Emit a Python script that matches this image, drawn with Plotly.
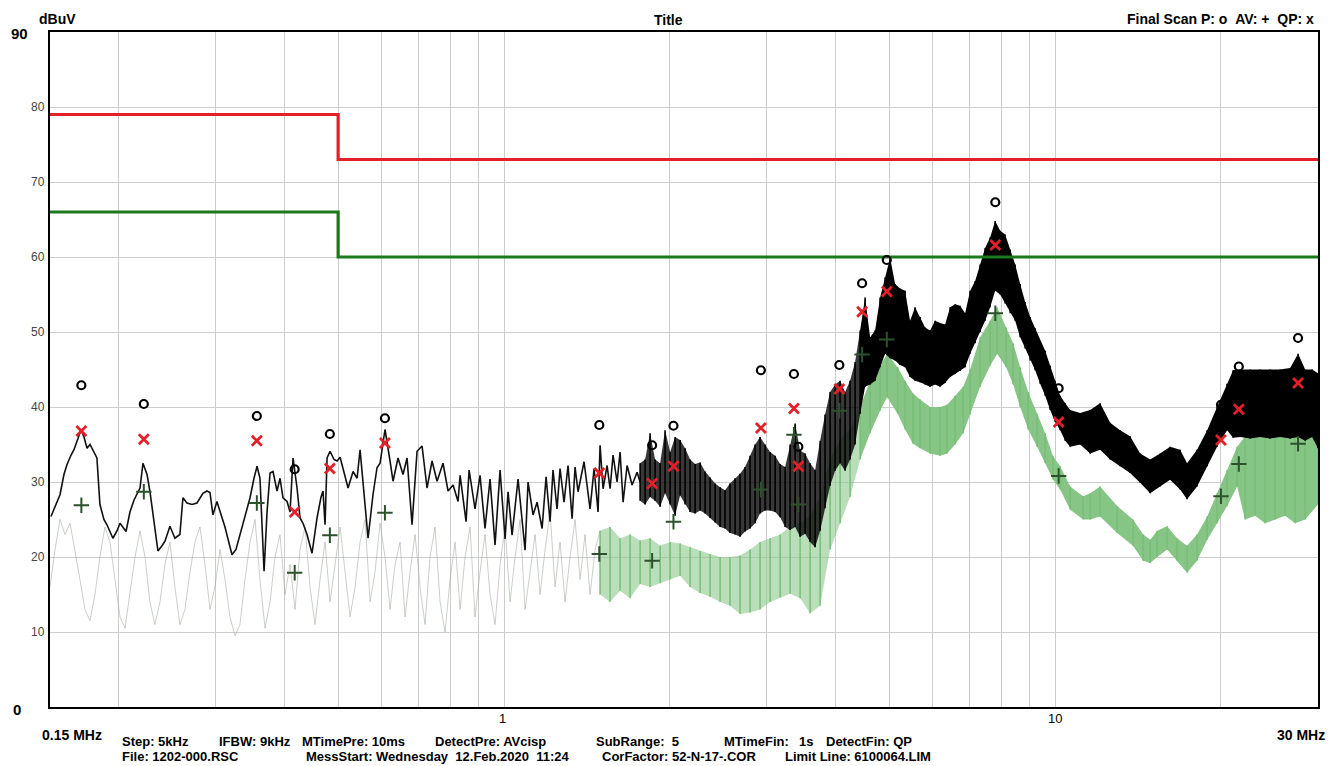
import math
import plotly.graph_objects as go

# ------------------------------------------------------------------ data
limit_freq = [0.15, 0.5, 0.5, 30.0]
qp_limit = [79, 79, 73, 73]
av_limit = [66, 66, 60, 60]

final_freq = [0.171, 0.222, 0.356, 0.417, 0.483, 0.608, 1.489, 1.857, 2.030, 2.925,
              3.358, 3.421, 4.06, 4.465, 4.95, 7.79, 10.15, 20.0, 21.55, 27.6]
final_peak = [42.9, 40.4, 38.8, 31.7, 36.4, 38.5, 37.6, 34.9, 37.5, 44.9,
              44.4, 34.7, 45.6, 56.5, 59.6, 67.3, 42.5, 40.3, 45.4, 49.2]
final_qp = [36.8, 35.7, 35.5, 26.0, 31.8, 35.2, 31.2, 29.8, 32.1, 37.2,
            39.8, 32.1, 42.4, 52.7, 55.4, 61.6, 38.0, 35.6, 39.7, 43.2]
final_av = [26.9, 28.7, 27.2, 17.9, 22.9, 25.9, 20.4, 19.5, 24.7, 29.0,
            36.3, 27.0, 39.5, 47.0, 49.0, 52.5, 30.8, 28.1, 32.4, 35.1]

# peak pre-scan, single line part (MHz, dBuV)
peak_line_freq = [0.1506, 0.1545, 0.1564, 0.1590, 0.1610, 0.1638, 0.1658, 0.1686, 0.1707, 0.1729,
                  0.1751, 0.1773, 0.1795, 0.1825, 0.1848, 0.1879, 0.1903, 0.1951, 0.1985, 0.2010,
                  0.2061, 0.2095, 0.2131, 0.2185, 0.2212, 0.2250, 0.2277, 0.2315, 0.2355, 0.2395,
                  0.2425, 0.2476, 0.2528, 0.2581, 0.2614, 0.2658, 0.2715, 0.2772, 0.2842, 0.2890,
                  0.2927, 0.2963, 0.3013, 0.3116, 0.3209, 0.3263, 0.3318, 0.3388, 0.3460, 0.3518,
                  0.3563, 0.3607, 0.3637, 0.3669, 0.3715, 0.3762, 0.3809, 0.3873, 0.3922, 0.3971,
                  0.4039, 0.4090, 0.4141, 0.4211, 0.4264, 0.4317, 0.4391, 0.4483, 0.4578, 0.4655,
                  0.4694, 0.4734, 0.4774, 0.4834, 0.4915, 0.4977, 0.5041, 0.5147, 0.5212, 0.5322,
                  0.5412, 0.5480, 0.5549, 0.5666, 0.5784, 0.5882, 0.5957, 0.6082, 0.6211, 0.6289,
                  0.6422, 0.6557, 0.6669, 0.6809, 0.6953, 0.7100, 0.7249, 0.7403, 0.7559, 0.7750,
                  0.7915, 0.8082, 0.8253, 0.8323, 0.8534, 0.8642, 0.8859, 0.9046, 0.9237, 0.9433,
                  0.9632, 0.9836, 1.0044, 1.0170, 1.0342, 1.0604, 1.0919, 1.1056, 1.1290, 1.1482,
                  1.1724, 1.1922, 1.2120, 1.2272, 1.2480, 1.2638, 1.2851, 1.3067, 1.3289, 1.3456,
                  1.3625, 1.3971, 1.4327, 1.4569, 1.4813, 1.4938, 1.5126, 1.5382, 1.5576, 1.5771,
                  1.6039, 1.6241, 1.6446, 1.6724, 1.7077, 1.7438, 1.7659]
peak_line_level = [25.4, 27.5, 28.3, 31.0, 32.3, 33.6, 34.3, 35.8, 37.0, 36.0,
                   34.5, 35.0, 34.3, 33.2, 27.0, 25.0, 24.3, 22.5, 23.5, 24.5,
                   23.4, 26.0, 27.6, 29.2, 32.5, 31.0, 28.8, 25.0, 20.8, 21.5,
                   22.1, 24.1, 22.5, 23.0, 27.9, 27.2, 27.0, 27.2, 28.5, 28.8,
                   28.6, 25.6, 27.4, 24.0, 20.3, 21.0, 23.0, 25.5, 27.9, 30.5,
                   32.1, 30.5, 24.0, 18.1, 26.0, 31.2, 31.4, 28.8, 30.5, 27.9,
                   27.4, 26.0, 33.2, 29.2, 25.2, 24.5, 23.0, 20.5, 25.2, 28.0,
                   28.8, 24.3, 33.2, 34.1, 33.0, 32.8, 33.3, 30.8, 29.2, 31.4,
                   30.5, 34.3, 30.0, 22.5, 28.3, 31.9, 32.5, 37.0, 32.8, 30.1,
                   33.2, 31.0, 33.2, 24.3, 34.1, 34.8, 29.2, 32.8, 30.1, 32.5,
                   28.8, 29.6, 27.4, 30.9, 24.7, 31.6, 26.4, 30.9, 23.8, 30.4,
                   21.6, 31.6, 22.4, 28.7, 22.9, 30.4, 20.9, 30.0, 25.6, 27.3,
                   23.8, 30.7, 24.7, 31.6, 26.4, 31.8, 27.3, 32.2, 25.1, 32.0,
                   28.7, 32.7, 26.4, 31.8, 26.0, 34.9, 29.1, 32.2, 29.1, 33.6,
                   30.0, 34.0, 27.3, 32.2, 29.6, 31.3, 30.0]

# peak pre-scan, dense part: upper / lower envelope (MHz, dBuV)
peak_band_freq = [1.7659, 1.8032, 1.841, 1.880, 1.920, 1.960, 2.002, 2.044, 2.087, 2.131,
                  2.176, 2.222, 2.269, 2.317, 2.366, 2.416, 2.467, 2.518, 2.571, 2.626,
                  2.681, 2.738, 2.796, 2.855, 2.915, 2.977, 3.040, 3.104, 3.170, 3.237,
                  3.305, 3.375, 3.446, 3.519, 3.593, 3.669, 3.747, 3.825, 3.906, 3.989,
                  4.073, 4.159, 4.246, 4.336, 4.428,
                  4.521, 4.617, 4.714, 4.814, 4.916, 5.019, 5.125, 5.232, 5.343, 5.456,
                  5.571, 5.689, 5.809, 5.932, 6.057, 6.185, 6.316, 6.450, 6.586, 6.725,
                  6.867, 7.012, 7.161, 7.312, 7.466, 7.624, 7.785, 7.949, 8.117, 8.289,
                  8.464, 8.643, 8.825, 9.012, 9.202, 9.397, 9.595, 9.797, 10.004, 10.216,
                  10.432, 10.652, 11.105, 11.580, 12.07, 12.59, 13.12, 13.68, 14.27, 14.88,
                  15.51, 16.17, 16.86, 17.36, 18.10, 18.88, 19.68, 20.52, 21.04, 21.67,
                  22.59, 23.56, 24.56, 25.61, 26.70, 27.61, 28.43, 29.27, 30.0]
peak_band_hi = [32.5, 33.0, 36.5, 33.0, 32.5, 36.9, 34.0, 36.0, 35.6, 34.5,
                33.0, 32.4, 32.6, 31.4, 30.6, 29.8, 29.3, 28.9, 29.8, 30.5,
                31.1, 32.0, 33.5, 35.0, 36.0, 35.0, 34.0, 33.5, 32.4, 32.0,
                35.0, 37.8, 34.2, 33.8, 32.5, 31.6, 35.5, 39.0, 42.0, 43.0,
                43.5, 42.0, 43.5, 46.0, 50.2,
                54.6, 49.3, 50.2, 54.6, 57.3, 59.9, 56.4, 55.8, 55.5, 51.5,
                53.3, 52.0, 50.6, 50.2, 51.5, 51.2, 51.0, 53.3, 53.7, 53.5,
                52.5, 55.5, 56.8, 59.0, 61.2, 62.6, 64.8, 63.5, 63.0, 61.0,
                59.0, 56.4, 54.0, 52.0, 50.5, 48.8, 47.5, 45.5, 43.5, 41.5,
                40.5, 39.6, 39.2, 39.6, 40.5, 37.9, 36.9, 36.1, 33.8, 33.0,
                33.8, 34.7, 34.3, 32.5, 34.3, 36.9, 40.0, 43.1, 44.9, 45.0,
                45.0, 45.0, 45.0, 45.0, 45.2, 47.1, 45.0, 45.0, 44.5]
peak_band_lo = [27.5, 27.0, 28.0, 27.5, 26.7, 28.5, 27.0, 25.5, 28.2, 27.0,
                26.0, 25.8, 26.2, 25.8, 25.2, 24.6, 24.0, 23.8, 23.2, 23.0,
                22.7, 23.4, 23.8, 24.5, 25.8, 26.2, 26.2, 26.0, 25.3, 24.0,
                23.6, 24.0, 22.7, 23.1, 22.0, 21.3, 23.5, 26.5, 29.5, 31.5,
                32.5, 31.5, 33.0, 35.0, 39.1,
                42.7, 43.0, 43.5, 45.3, 47.1, 46.5, 46.2, 45.6, 45.3, 44.0,
                43.5, 43.3, 43.0, 42.7, 43.0, 42.7, 43.2, 44.0, 44.4, 44.8,
                45.3, 47.1, 48.5, 50.0, 51.5, 53.3, 55.5, 55.0, 53.8, 52.5,
                51.5, 49.3, 47.8, 46.2, 44.9, 43.1, 41.5, 39.6, 38.0, 36.9,
                35.5, 34.7, 35.0, 33.8, 34.3, 33.0, 32.1, 31.2, 29.9, 28.5,
                29.4, 30.3, 29.0, 27.7, 29.4, 32.1, 34.7, 36.9, 35.9, 36.0,
                35.8, 36.0, 35.8, 36.0, 35.8, 36.0, 35.5, 36.0, 34.5]
peak_dense_from = 4.428   # MHz where the peak trace becomes a solid band

# average pre-scan, faint line part (MHz, dBuV)
av_line_freq = [0.1500, 0.1532, 0.1564, 0.1597, 0.1631, 0.1665, 0.1700, 0.1736, 0.1773, 0.1810,
                0.1848, 0.1887, 0.1927, 0.1968, 0.2010, 0.2052, 0.2095, 0.2140, 0.2185, 0.2231,
                0.2277, 0.2325, 0.2375, 0.2425, 0.2476, 0.2528, 0.2581, 0.2636, 0.2692, 0.2749,
                0.2807, 0.2866, 0.2927, 0.2988, 0.3052, 0.3116, 0.3182, 0.3249, 0.3318, 0.3388,
                0.3460, 0.3533, 0.3607, 0.3684, 0.3762, 0.3841, 0.3922, 0.4005, 0.4090, 0.4176,
                0.4264, 0.4354, 0.4446, 0.4540, 0.4636, 0.4734, 0.4834, 0.4936, 0.5041, 0.5147,
                0.5256, 0.5367, 0.5480, 0.5596, 0.5714, 0.5833, 0.5957, 0.6082, 0.6211, 0.6342,
                0.6476, 0.6613, 0.6752, 0.6895, 0.7041, 0.7189, 0.7341, 0.7496, 0.7655, 0.7816,
                0.7982, 0.8150, 0.8323, 0.8498, 0.8678, 0.8859, 0.9046, 0.9237, 0.9433, 0.9632,
                0.9836, 1.0044, 1.0256, 1.0473, 1.0694, 1.0919, 1.1150, 1.1386, 1.1626, 1.1872,
                1.2120, 1.2376, 1.2638, 1.2905, 1.3178, 1.3456, 1.3740, 1.4030, 1.4327, 1.4630,
                1.4938]
av_line_level = [16, 21, 25, 23, 24.5, 21, 17, 13, 11.5, 15,
                 20, 24, 22, 17, 12, 10.5, 15, 20, 23.5, 20,
                 14, 11, 14, 19, 22, 16, 11, 13, 18, 22,
                 24, 19, 13, 16, 21, 17, 12, 9.5, 11, 17,
                 22, 25, 17, 10.5, 14, 20, 23, 15, 19, 13,
                 21, 24, 16, 11, 17, 22, 14, 19, 24, 18,
                 12, 16, 22, 25, 14, 18, 24.5, 20, 13, 19,
                 22, 12, 18, 23, 16, 11, 20, 24, 14, 10,
                 17, 22, 13, 20, 24, 12, 18, 23, 15, 11,
                 19, 24, 14, 20, 25, 13, 18, 23, 15, 21,
                 26, 16, 22, 14, 20, 25, 17, 23, 15, 21,
                 23.5]

# average pre-scan, dense part: upper / lower envelope (MHz, dBuV)
av_band_freq = [1.4938, 1.5576, 1.6241, 1.6935, 1.7659, 1.841, 1.920, 2.002, 2.087, 2.176,
                2.269, 2.366, 2.467, 2.571, 2.681, 2.796, 2.915, 3.040, 3.170, 3.305,
                3.446, 3.593, 3.747, 3.906, 4.073, 4.246, 4.428,
                4.617, 4.814, 4.957, 5.180, 5.343, 5.524, 5.689, 5.932, 6.185, 6.369,
                6.586, 6.812, 7.012, 7.312, 7.624, 7.850, 8.151, 8.394, 8.643, 8.937,
                9.280, 9.595, 9.920, 10.216, 10.652, 11.245, 11.580, 12.07, 12.96, 13.85,
                14.45, 14.88, 15.32, 15.97, 16.65, 17.36, 18.10, 18.88, 19.68, 20.52,
                21.40, 22.12, 23.07, 24.05, 25.08, 26.15, 27.27, 28.43, 30.0]
av_band_hi = [23.5, 24.0, 22.5, 23.0, 22.2, 22.5, 21.5, 22.0, 21.8, 21.3,
              20.8, 20.4, 20.0, 20.0, 20.2, 21.0, 22.0, 22.5, 23.0, 24.0,
              24.5, 25.5, 28.0, 33.0, 35.6, 37.0, 40.0,
              43.5, 45.5, 47.1, 45.3, 43.5, 41.8, 41.0, 40.0, 40.0, 40.3,
              41.5, 42.7, 45.0, 49.3, 51.5, 53.3, 50.6, 48.5, 45.3, 42.0,
              39.1, 36.5, 33.4, 32.1, 29.4, 28.1, 28.5, 29.4, 26.8, 25.0,
              23.0, 22.3, 23.5, 24.1, 22.5, 21.5, 23.0, 25.4, 28.5, 31.6,
              34.7, 36.1, 36.3, 36.3, 36.3, 36.3, 36.5, 36.3, 36.0]
av_band_lo = [15.0, 14.0, 15.5, 14.5, 16.4, 16.0, 16.5, 17.0, 17.5, 16.0,
              15.2, 14.7, 14.0, 13.5, 12.4, 12.6, 13.0, 14.0, 14.6, 15.1,
              14.5, 12.5, 13.5, 21.0, 24.5, 28.0, 33.0,
              36.5, 39.5, 41.3, 39.1, 37.0, 35.1, 34.5, 33.8, 33.5, 33.8,
              35.0, 36.5, 39.0, 42.7, 45.5, 47.1, 45.3, 43.0, 40.0, 37.0,
              34.7, 32.5, 30.3, 29.0, 26.3, 25.0, 25.0, 25.4, 23.2, 21.5,
              19.5, 19.2, 20.0, 21.0, 19.5, 17.9, 19.5, 22.3, 24.5, 26.8,
              29.4, 25.0, 25.5, 24.5, 25.0, 25.5, 24.5, 25.0, 27.0]
av_dense_from = 4.428

x_grid = [0.2, 0.3, 0.4, 0.5, 0.6, 0.7, 0.8, 0.9, 1, 2, 3, 4, 5, 6, 7, 8, 9, 10, 20, 30]
y_ticks = [10, 20, 30, 40, 50, 60, 70, 80]

row1 = [("Step: 5kHz", 120), ("IFBW:", 217), ("9kHz", 258), ("MTimePre: 10ms", 300),
        ("DetectPre: AVcisp", 433), ("SubRange:\u00a0\u00a05", 594), ("MTimeFin:", 722),
        ("1s", 797), ("DetectFin: QP", 824)]
row2 = [("File: 1202-000.RSC", 120),
        ("MessStart: Wednesday\u00a0\u00a012.Feb.2020\u00a0\u00a011:24", 304),
        ("CorFactor: 52-N-17-.COR", 600), ("Limit Line: 6100064.LIM", 783)]

# ------------------------------------------------------------------ style / layout
W, H = 1331, 766
L, R, T, B = 50, 1318, 32, 707
FONT = "Liberation Sans, Arial, sans-serif"
RED = "#e3202a"
GREEN = "#1b7a1b"
LIGHT_GREEN = "#86c586"


def px(x):
    return (x - L) / (R - L)


def py(y):
    return (B - y) / (B - T)


fig = go.Figure()


def add_band(freq, hi, lo, split, fill_sparse, fill_dense, spike_color, spike_w):
    k = max(i for i, f in enumerate(freq) if f <= split)
    parts = [(slice(0, k + 1), fill_sparse), (slice(k, len(freq)), fill_dense)]
    for sl, fc in parts:
        fig.add_trace(go.Scatter(x=freq[sl], y=lo[sl], mode="lines",
                                 line=dict(width=0, color=fc), hoverinfo="skip",
                                 showlegend=False))
        fig.add_trace(go.Scatter(x=freq[sl], y=hi[sl], mode="lines", fill="tonexty",
                                 fillcolor=fc, line=dict(width=0, color=fc),
                                 hoverinfo="skip", showlegend=False))
    xs, ys = [], []
    for f, h, l in zip(freq, hi, lo):
        xs += [f, f, None]
        ys += [l, h, None]
    fig.add_trace(go.Scatter(x=xs, y=ys, mode="lines",
                             line=dict(width=spike_w, color=spike_color),
                             hoverinfo="skip", showlegend=False, connectgaps=False))


# average pre-scan (under)
fig.add_trace(go.Scatter(x=av_line_freq, y=av_line_level, mode="lines",
                         line=dict(color="rgba(150,160,150,0.5)", width=1),
                         showlegend=False, hoverinfo="skip"))
add_band(av_band_freq, av_band_hi, av_band_lo, av_dense_from,
         "rgba(140,200,140,0.6)", LIGHT_GREEN, "rgba(120,190,120,0.95)", 1.6)

# peak pre-scan
fig.add_trace(go.Scatter(x=peak_line_freq, y=peak_line_level, mode="lines",
                         line=dict(color="#111111", width=1.6),
                         showlegend=False, hoverinfo="skip"))
add_band(peak_band_freq, peak_band_hi, peak_band_lo, peak_dense_from,
         "rgba(0,0,0,0.78)", "#000000", "#000000", 1.6)

# limit lines
fig.add_trace(go.Scatter(x=limit_freq, y=qp_limit, mode="lines",
                         line=dict(color=RED, width=3.2), showlegend=False))
fig.add_trace(go.Scatter(x=limit_freq, y=av_limit, mode="lines",
                         line=dict(color=GREEN, width=3.2), showlegend=False))

# final scan markers
AV_MARK = "#2c522c"
fig.add_trace(go.Scatter(x=final_freq, y=final_av, mode="markers",
                         marker=dict(symbol="cross-thin-open", size=11, color=AV_MARK,
                                     line=dict(width=2, color=AV_MARK)),
                         showlegend=False))
fig.add_trace(go.Scatter(x=final_freq, y=final_qp, mode="markers",
                         marker=dict(symbol="x-thin-open", size=10, color=RED,
                                     line=dict(width=2.8, color=RED)),
                         showlegend=False))
fig.add_trace(go.Scatter(x=final_freq, y=final_peak, mode="markers",
                         marker=dict(symbol="circle-open", size=8, color="black",
                                     line=dict(width=2.2, color="black")),
                         showlegend=False))

ann = []


def text(t, x, y, size=14, bold=True, xanchor="left", color="black", yref="paper"):
    ann.append(dict(text=t, x=x, y=y, xref="paper", yref=yref, showarrow=False,
                    xanchor=xanchor, yanchor="middle",
                    font=dict(family=FONT, size=size, color=color,
                              weight="bold" if bold else "normal")))


for v in y_ticks:
    text(str(v), px(47), v, size=12, bold=False, xanchor="right", color="#444444", yref="y")
text("90", px(9), py(33), size=15)
text("0", px(11), py(709), size=15)
text("dBuV", px(37), py(19), size=14)
text("Title", px(668), py(20), size=14, xanchor="center")
text("Final Scan P: o\u00a0\u00a0AV: +\u00a0\u00a0QP: x", px(1316), py(19), size=14, xanchor="right")
text("1", px(502), py(718), size=13, bold=False, xanchor="center")
text("10", px(1055), py(718), size=13, bold=False, xanchor="center")
text("0.15 MHz", px(40), py(735), size=14)
text("30 MHz", px(1327), py(735), size=14, xanchor="right")
for t, x in row1:
    text(t, px(x), py(741), size=13)
for t, x in row2:
    text(t, px(x), py(757), size=13)

fig.update_layout(
    width=W, height=H, autosize=False,
    margin=dict(l=L, r=W - R, t=T, b=H - B, pad=0),
    paper_bgcolor="white", plot_bgcolor="white",
    showlegend=False,
    hovermode=False,
    annotations=ann,
    xaxis=dict(type="log", range=[math.log10(0.15), math.log10(30)],
               tickvals=x_grid, showticklabels=False, ticks="",
               showgrid=True, gridcolor="#cdcdcd", gridwidth=1,
               showline=True, mirror=True, linecolor="black", linewidth=1.5,
               zeroline=False),
    yaxis=dict(range=[0, 90], tickvals=y_ticks, showticklabels=False, ticks="",
               showgrid=True, gridcolor="#cdcdcd", gridwidth=1,
               showline=True, mirror=True, linecolor="black", linewidth=1.5,
               zeroline=False),
)

fig.write_html("out.html",
               config={"displayModeBar": False},
               post_script="document.body.style.margin='0';document.body.style.overflow='hidden';")
